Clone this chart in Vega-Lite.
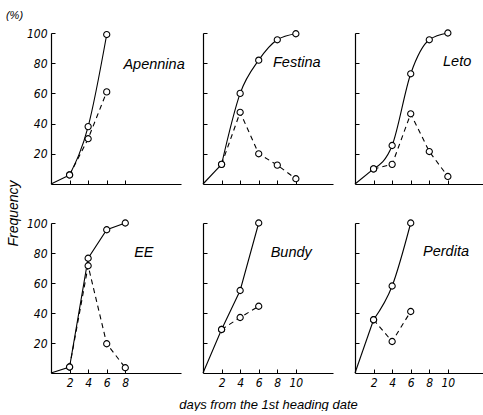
{
  "$schema": "https://vega.github.io/schema/vega-lite/v6.json",
  "padding": {"left": 5, "top": 9, "right": 0, "bottom": 0},
  "background": "white",
  "datasets": {
    "pts": [
      {"v": "Apennina", "s": "cum", "d": 0, "f": 0},
      {"v": "Apennina", "s": "cum", "d": 2, "f": 6},
      {"v": "Apennina", "s": "cum", "d": 4, "f": 38},
      {"v": "Apennina", "s": "cum", "d": 6, "f": 99},
      {"v": "Apennina", "s": "freq", "d": 2, "f": 6},
      {"v": "Apennina", "s": "freq", "d": 4, "f": 30},
      {"v": "Apennina", "s": "freq", "d": 6, "f": 61},
      {"v": "Festina", "s": "cum", "d": 0, "f": 0},
      {"v": "Festina", "s": "cum", "d": 2, "f": 13},
      {"v": "Festina", "s": "cum", "d": 4, "f": 60},
      {"v": "Festina", "s": "cum", "d": 6, "f": 82},
      {"v": "Festina", "s": "cum", "d": 8, "f": 95.5},
      {"v": "Festina", "s": "cum", "d": 10, "f": 99.5},
      {"v": "Festina", "s": "freq", "d": 2, "f": 13},
      {"v": "Festina", "s": "freq", "d": 4, "f": 47.5},
      {"v": "Festina", "s": "freq", "d": 6, "f": 20},
      {"v": "Festina", "s": "freq", "d": 8, "f": 12.5},
      {"v": "Festina", "s": "freq", "d": 10, "f": 3.5},
      {"v": "Leto", "s": "cum", "d": 0, "f": 0},
      {"v": "Leto", "s": "cum", "d": 2, "f": 10},
      {"v": "Leto", "s": "cum", "d": 4, "f": 25.5},
      {"v": "Leto", "s": "cum", "d": 6, "f": 73},
      {"v": "Leto", "s": "cum", "d": 8, "f": 95.5},
      {"v": "Leto", "s": "cum", "d": 10, "f": 100},
      {"v": "Leto", "s": "freq", "d": 2, "f": 10},
      {"v": "Leto", "s": "freq", "d": 4, "f": 13},
      {"v": "Leto", "s": "freq", "d": 6, "f": 46.5},
      {"v": "Leto", "s": "freq", "d": 8, "f": 21.5},
      {"v": "Leto", "s": "freq", "d": 10, "f": 5},
      {"v": "EE", "s": "cum", "d": 0, "f": 0},
      {"v": "EE", "s": "cum", "d": 2, "f": 4},
      {"v": "EE", "s": "cum", "d": 4, "f": 76.5},
      {"v": "EE", "s": "cum", "d": 6, "f": 95.5},
      {"v": "EE", "s": "cum", "d": 8, "f": 100},
      {"v": "EE", "s": "freq", "d": 2, "f": 4},
      {"v": "EE", "s": "freq", "d": 4, "f": 71.5},
      {"v": "EE", "s": "freq", "d": 6, "f": 19.5},
      {"v": "EE", "s": "freq", "d": 8, "f": 3.5},
      {"v": "Bundy", "s": "cum", "d": 0, "f": 0},
      {"v": "Bundy", "s": "cum", "d": 2, "f": 29},
      {"v": "Bundy", "s": "cum", "d": 4, "f": 55},
      {"v": "Bundy", "s": "cum", "d": 6, "f": 100},
      {"v": "Bundy", "s": "freq", "d": 2, "f": 29},
      {"v": "Bundy", "s": "freq", "d": 4, "f": 37},
      {"v": "Bundy", "s": "freq", "d": 6, "f": 44.5},
      {"v": "Perdita", "s": "cum", "d": 0, "f": 0},
      {"v": "Perdita", "s": "cum", "d": 2, "f": 35.5},
      {"v": "Perdita", "s": "cum", "d": 4, "f": 58},
      {"v": "Perdita", "s": "cum", "d": 6, "f": 100},
      {"v": "Perdita", "s": "freq", "d": 2, "f": 35.5},
      {"v": "Perdita", "s": "freq", "d": 4, "f": 21},
      {"v": "Perdita", "s": "freq", "d": 6, "f": 41}
    ]
  },
  "columns": 3,
  "spacing": {"row": 39, "column": 22},
  "bounds": "flush",
  "concat": [
    {
      "width": 130, "height": 151,
      "data": {"name": "pts"},
      "transform": [{"filter": "datum.v === 'Apennina'"}],
      "encoding": {
        "x": {"field": "d", "type": "quantitative", "scale": {"domain": [0, 14], "nice": false}, "axis": {"values": [2, 4, 6, 8], "labels": false, "title": null}},
        "y": {"field": "f", "type": "quantitative", "scale": {"domain": [0, 100], "nice": false}, "axis": {"values": [20, 40, 60, 80, 100], "title": "(%)", "titleAngle": 0, "titleX": -37, "titleY": -18, "titleAlign": "center", "titleBaseline": "middle", "titleFontSize": 11}}
      },
      "layer": [
        {"transform": [{"filter": "datum.s === 'cum' && datum.d <= 2"}], "mark": {"type": "line", "color": "black", "strokeWidth": 1.1}},
        {"transform": [{"filter": "datum.s === 'cum' && datum.d >= 2"}], "mark": {"type": "line", "interpolate": "monotone", "color": "black", "strokeWidth": 1.1}},
        {"transform": [{"filter": "datum.s === 'freq'"}], "mark": {"type": "line", "color": "black", "strokeWidth": 1.1, "strokeDash": [5, 4]}},
        {"transform": [{"filter": "datum.d > 0"}], "mark": {"type": "point", "shape": "circle", "size": 38, "filled": true, "fill": "white", "stroke": "black", "strokeWidth": 1.1, "opacity": 1}},
        {"transform": [{"filter": "datum.d === 0"}], "mark": {"type": "text", "text": "Apennina", "font": "Liberation Sans", "fontStyle": "italic", "fontSize": 14.5, "color": "black"}, "encoding": {"x": {"datum": 11.1}, "y": {"datum": 79}}}
      ]
    },
    {
      "width": 130, "height": 151,
      "data": {"name": "pts"},
      "transform": [{"filter": "datum.v === 'Festina'"}],
      "encoding": {
        "x": {"field": "d", "type": "quantitative", "scale": {"domain": [0, 14], "nice": false}, "axis": {"values": [2, 4, 6, 8, 10], "labels": false, "title": null}},
        "y": {"field": "f", "type": "quantitative", "scale": {"domain": [0, 100], "nice": false}, "axis": {"values": [20, 40, 60, 80, 100], "labels": false, "title": null}}
      },
      "layer": [
        {"transform": [{"filter": "datum.s === 'cum' && datum.d <= 2"}], "mark": {"type": "line", "color": "black", "strokeWidth": 1.1}},
        {"transform": [{"filter": "datum.s === 'cum' && datum.d >= 2"}], "mark": {"type": "line", "interpolate": "monotone", "color": "black", "strokeWidth": 1.1}},
        {"transform": [{"filter": "datum.s === 'freq'"}], "mark": {"type": "line", "color": "black", "strokeWidth": 1.1, "strokeDash": [5, 4]}},
        {"transform": [{"filter": "datum.d > 0"}], "mark": {"type": "point", "shape": "circle", "size": 38, "filled": true, "fill": "white", "stroke": "black", "strokeWidth": 1.1, "opacity": 1}},
        {"transform": [{"filter": "datum.d === 0"}], "mark": {"type": "text", "text": "Festina", "font": "Liberation Sans", "fontStyle": "italic", "fontSize": 14.5, "color": "black"}, "encoding": {"x": {"datum": 10.1}, "y": {"datum": 80}}}
      ]
    },
    {
      "width": 130, "height": 151,
      "data": {"name": "pts"},
      "transform": [{"filter": "datum.v === 'Leto'"}],
      "encoding": {
        "x": {"field": "d", "type": "quantitative", "scale": {"domain": [0, 14], "nice": false}, "axis": {"values": [2, 4, 6, 8, 10], "labels": false, "title": null}},
        "y": {"field": "f", "type": "quantitative", "scale": {"domain": [0, 100], "nice": false}, "axis": {"values": [20, 40, 60, 80, 100], "labels": false, "title": null}}
      },
      "layer": [
        {"transform": [{"filter": "datum.s === 'cum' && datum.d <= 2"}], "mark": {"type": "line", "color": "black", "strokeWidth": 1.1}},
        {"transform": [{"filter": "datum.s === 'cum' && datum.d >= 2"}], "mark": {"type": "line", "interpolate": "monotone", "color": "black", "strokeWidth": 1.1}},
        {"transform": [{"filter": "datum.s === 'freq'"}], "mark": {"type": "line", "color": "black", "strokeWidth": 1.1, "strokeDash": [5, 4]}},
        {"transform": [{"filter": "datum.d > 0"}], "mark": {"type": "point", "shape": "circle", "size": 38, "filled": true, "fill": "white", "stroke": "black", "strokeWidth": 1.1, "opacity": 1}},
        {"transform": [{"filter": "datum.d === 0"}], "mark": {"type": "text", "text": "Leto", "font": "Liberation Sans", "fontStyle": "italic", "fontSize": 14.5, "color": "black"}, "encoding": {"x": {"datum": 11.0}, "y": {"datum": 81}}}
      ]
    },
    {
      "width": 130, "height": 150,
      "data": {"name": "pts"},
      "transform": [{"filter": "datum.v === 'EE'"}],
      "encoding": {
        "x": {"field": "d", "type": "quantitative", "scale": {"domain": [0, 14], "nice": false}, "axis": {"values": [2, 4, 6, 8], "title": null}},
        "y": {"field": "f", "type": "quantitative", "scale": {"domain": [0, 100], "nice": false}, "axis": {"values": [20, 40, 60, 80, 100], "title": "Frequency", "titleX": -38, "titleY": -10, "titleAngle": -90, "titleAlign": "center", "titleBaseline": "middle", "titleFontSize": 14}}
      },
      "layer": [
        {"transform": [{"filter": "datum.s === 'cum'"}], "mark": {"type": "line", "color": "black", "strokeWidth": 1.1}},
        {"transform": [{"filter": "datum.s === 'freq'"}], "mark": {"type": "line", "color": "black", "strokeWidth": 1.1, "strokeDash": [5, 4]}},
        {"transform": [{"filter": "datum.d > 0"}], "mark": {"type": "point", "shape": "circle", "size": 38, "filled": true, "fill": "white", "stroke": "black", "strokeWidth": 1.1, "opacity": 1}},
        {"transform": [{"filter": "datum.d === 0"}], "mark": {"type": "text", "text": "EE", "font": "Liberation Sans", "fontStyle": "italic", "fontSize": 14.5, "color": "black"}, "encoding": {"x": {"datum": 10.0}, "y": {"datum": 80}}}
      ]
    },
    {
      "width": 130, "height": 150,
      "data": {"name": "pts"},
      "transform": [{"filter": "datum.v === 'Bundy'"}],
      "encoding": {
        "x": {"field": "d", "type": "quantitative", "scale": {"domain": [0, 14], "nice": false}, "axis": {"values": [2, 4, 6, 8, 10], "title": "days from the 1st heading date"}},
        "y": {"field": "f", "type": "quantitative", "scale": {"domain": [0, 100], "nice": false}, "axis": {"values": [20, 40, 60, 80, 100], "labels": false, "title": null}}
      },
      "layer": [
        {"transform": [{"filter": "datum.s === 'cum'"}], "mark": {"type": "line", "color": "black", "strokeWidth": 1.1}},
        {"transform": [{"filter": "datum.s === 'freq'"}], "mark": {"type": "line", "color": "black", "strokeWidth": 1.1, "strokeDash": [5, 4]}},
        {"transform": [{"filter": "datum.d > 0"}], "mark": {"type": "point", "shape": "circle", "size": 38, "filled": true, "fill": "white", "stroke": "black", "strokeWidth": 1.1, "opacity": 1}},
        {"transform": [{"filter": "datum.d === 0"}], "mark": {"type": "text", "text": "Bundy", "font": "Liberation Sans", "fontStyle": "italic", "fontSize": 14.5, "color": "black"}, "encoding": {"x": {"datum": 9.5}, "y": {"datum": 80}}}
      ]
    },
    {
      "width": 130, "height": 150,
      "data": {"name": "pts"},
      "transform": [{"filter": "datum.v === 'Perdita'"}],
      "encoding": {
        "x": {"field": "d", "type": "quantitative", "scale": {"domain": [0, 14], "nice": false}, "axis": {"values": [2, 4, 6, 8, 10], "title": null}},
        "y": {"field": "f", "type": "quantitative", "scale": {"domain": [0, 100], "nice": false}, "axis": {"values": [20, 40, 60, 80, 100], "labels": false, "title": null}}
      },
      "layer": [
        {"transform": [{"filter": "datum.s === 'cum' && datum.d <= 2"}], "mark": {"type": "line", "color": "black", "strokeWidth": 1.1}},
        {"transform": [{"filter": "datum.s === 'cum' && datum.d >= 2"}], "mark": {"type": "line", "interpolate": "monotone", "color": "black", "strokeWidth": 1.1}},
        {"transform": [{"filter": "datum.s === 'freq'"}], "mark": {"type": "line", "color": "black", "strokeWidth": 1.1, "strokeDash": [5, 4]}},
        {"transform": [{"filter": "datum.d > 0"}], "mark": {"type": "point", "shape": "circle", "size": 38, "filled": true, "fill": "white", "stroke": "black", "strokeWidth": 1.1, "opacity": 1}},
        {"transform": [{"filter": "datum.d === 0"}], "mark": {"type": "text", "text": "Perdita", "font": "Liberation Sans", "fontStyle": "italic", "fontSize": 14.5, "color": "black"}, "encoding": {"x": {"datum": 9.8}, "y": {"datum": 81}}}
      ]
    }
  ],
  "config": {
    "view": {"stroke": null},
    "axis": {
      "grid": false,
      "domainColor": "black",
      "domainWidth": 1.2,
      "tickColor": "black",
      "tickSize": -4,
      "tickWidth": 1,
      "labelPadding": 8,
      "labelFont": "DejaVu Sans Condensed",
      "labelFontStyle": "italic",
      "labelFontSize": 12,
      "labelColor": "black",
      "titleFont": "Liberation Sans",
      "titleFontStyle": "italic",
      "titleFontWeight": "normal",
      "titleFontSize": 13,
      "titleColor": "black",
      "titlePadding": 10
    }
  }
}
